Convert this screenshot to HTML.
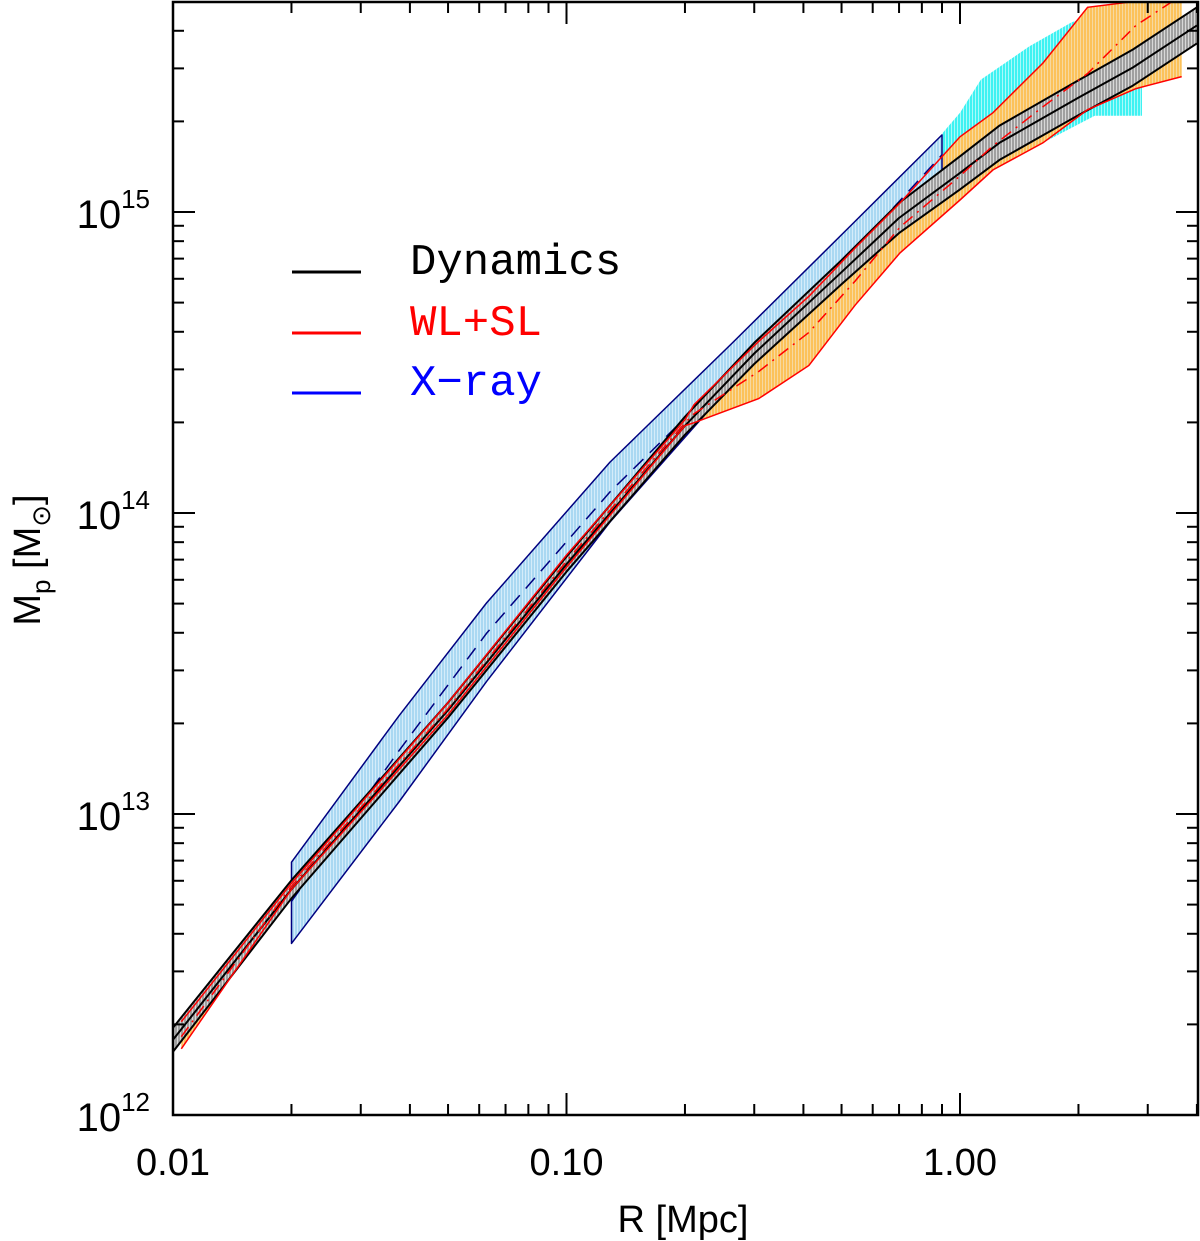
<!DOCTYPE html>
<html><head><meta charset="utf-8"><style>
html,body{margin:0;padding:0;background:#fff;}
svg{display:block;}
</style></head><body>
<svg id="chart" width="1200" height="1241" viewBox="0 0 1200 1241" xmlns="http://www.w3.org/2000/svg">
<defs>
<clipPath id="plotClip"><rect x="173" y="2" width="1025" height="1113"/></clipPath>
<pattern id="hatchOrange" width="3" height="3" patternUnits="userSpaceOnUse"><rect width="3" height="3" fill="#fcc25a"/><rect width="1" height="3" fill="#f7d9a0"/></pattern>
<pattern id="hatchBlue" width="3" height="3" patternUnits="userSpaceOnUse"><rect width="3" height="3" fill="#aad8f2"/><rect width="1" height="3" fill="#d4ecfa"/></pattern>
<pattern id="hatchCyan" width="3" height="3" patternUnits="userSpaceOnUse"><rect width="3" height="3" fill="#3ef2f2"/><rect width="1" height="3" fill="#a8fafa"/></pattern>
<pattern id="hatchGray" width="3" height="3" patternUnits="userSpaceOnUse"><rect width="3" height="3" fill="#a0a0a0"/><rect width="1" height="3" fill="#d8d8d8"/></pattern>
</defs>
<g id="plot" clip-path="url(#plotClip)"></g>
<g id="axes"></g>
<g id="legend">
<line x1="292" y1="272" x2="361" y2="272" stroke="#000" stroke-width="3"/>
<text x="410" y="274" font-family="Liberation Mono, monospace" font-size="44" fill="#000">Dynamics</text>
<line x1="292" y1="333" x2="361" y2="333" stroke="#f00" stroke-width="3"/>
<text x="410" y="335" font-family="Liberation Mono, monospace" font-size="44" fill="#f00">WL+SL</text>
<line x1="292" y1="393" x2="361" y2="393" stroke="#00f" stroke-width="3"/>
<text x="410" y="395" font-family="Liberation Mono, monospace" font-size="44" fill="#00f">X−ray</text>
</g>
<text x="683" y="1232" text-anchor="middle" font-family="Liberation Sans, sans-serif" font-size="38">R [Mpc]</text>
<text transform="translate(40,560) rotate(-90)" text-anchor="middle" font-family="Liberation Sans, sans-serif" font-size="38">M<tspan font-size="26" dy="10">p</tspan><tspan dy="-10"> [M</tspan><tspan font-size="26" dy="10">⊙</tspan><tspan dy="-10">]</tspan></text>
</svg>
<script>
// ---- data ----
const dynR = [0.01,0.02,0.05,0.1,0.2,0.3,0.5,0.7,1,1.26,2,2.75,4];
const dynLogM = [12.25,12.75,13.345,13.83,14.29,14.53,14.80,14.98,15.13,15.23,15.38,15.48,15.62];
const dynLogLo = [12.21,12.72,13.32,13.805,14.26,14.495,14.76,14.93,15.075,15.173,15.322,15.42,15.56];
const dynLogHi = [12.29,12.78,13.37,13.855,14.32,14.565,14.84,15.03,15.185,15.287,15.438,15.54,15.68];
const xrR = [0.02,0.0375,0.0626,0.129,0.264,0.528,0.9];
const xrLogM = [12.71,13.21,13.60,14.07,14.47,14.86,15.19];
const xrLogLo = [12.57,13.04,13.44,13.97,14.43,14.80,15.12];
const xrLogHi = [12.84,13.326,13.701,14.169,14.565,14.955,15.256];
const wlR = [0.0105,0.02,0.05,0.1,0.2,0.211,0.308,0.413,0.541,0.704,1.0,1.213,1.625,2.11,2.8,3.66];
const wlLogM = [12.26,12.76,13.35,13.84,14.30,14.33,14.47,14.60,14.77,14.95,15.12,15.22,15.35,15.46,15.62,15.72];
const wlLogLo = [12.22,12.75,13.33,13.82,14.29,14.30,14.38,14.49,14.69,14.864,15.04,15.14,15.23,15.34,15.41,15.45];
const wlLogHi = [12.31,12.77,13.37,13.86,14.31,14.36,14.57,14.72,14.88,15.03,15.25,15.33,15.495,15.68,15.70,15.71];
const cyanR = [0.9,1.0,1.13,1.5,1.92,2.55,2.9,2.9,2.2,1.625,1.0,0.9];
const cyanLogM = [15.26,15.33,15.44,15.55,15.63,15.69,15.70,15.32,15.32,15.23,15.10,15.10];
const xTickVals = [0.01,0.1,1];
const xTickLabels = ["0.01","0.10","1.00"];
const yTickVals = [12,13,14,15];
const yTickLabels = ["12","13","14","15"];
// ---- axes functions ----
const X0=173,X1=1198,Y0=1115,Y1=2;
function xs(r){return X0+(Math.log10(r)+2)*393.5;}
function ys(lm){return Y0-(lm-12)*301;}
const NS="http://www.w3.org/2000/svg";
const plot=document.getElementById('plot'), axes=document.getElementById('axes'), svg=document.getElementById('chart');
function mk(tag,attrs,parent){const el=document.createElementNS(NS,tag);for(const k in attrs)el.setAttribute(k,attrs[k]);parent.appendChild(el);return el;}
function pts(R,L){return R.map((r,i)=>xs(r).toFixed(1)+","+ys(L[i]).toFixed(1)).join(" ");}
function band(R,lo,hi){return pts(R,hi)+" "+pts(R.slice().reverse(),lo.slice().reverse());}
let e;
e=mk('polygon',{points:pts(cyanR,cyanLogM),fill:'url(#hatchCyan)'},plot);


e=mk('polygon',{points:band(wlR,wlLogLo,wlLogHi),fill:'url(#hatchOrange)'},plot);


e=mk('polygon',{points:band(xrR,xrLogLo,xrLogHi),fill:'url(#hatchBlue)',stroke:'#000080','stroke-width':1.5,'stroke-linejoin':'round'},plot);


e=mk('polyline',{points:pts(xrR,xrLogM),fill:'none',stroke:'#000080','stroke-width':1.5,'stroke-dasharray':'14,9'},plot);


e=mk('polygon',{points:band(dynR,dynLogLo,dynLogHi),fill:'url(#hatchGray)'},plot);


e=mk('polyline',{points:pts(dynR,dynLogLo),fill:'none',stroke:'#000','stroke-width':2,'stroke-linejoin':'round'},plot);


e=mk('polyline',{points:pts(dynR,dynLogHi),fill:'none',stroke:'#000','stroke-width':2,'stroke-linejoin':'round'},plot);


e=mk('polyline',{points:pts(dynR,dynLogM),fill:'none',stroke:'#000','stroke-width':2,'stroke-linejoin':'round'},plot);


e=mk('polyline',{points:pts(wlR,wlLogLo),fill:'none',stroke:'#f00','stroke-width':1.5},plot);


e=mk('polyline',{points:pts(wlR,wlLogHi),fill:'none',stroke:'#f00','stroke-width':1.5},plot);


e=mk('polyline',{points:pts(wlR,wlLogM),fill:'none',stroke:'#f00','stroke-width':1.5,'stroke-dasharray':'12,6,2,6'},plot);


// frame
e=mk('rect',{x:X0,y:Y1,width:X1-X0,height:Y0-Y1,fill:'none',stroke:'#000','stroke-width':2.5},axes);


// x ticks
for(let d=-2;d<=0;d++){for(let m=1;m<=9;m++){const v=m*Math.pow(10,d);const x=xs(v);if(x>X1)continue;const L=m===1?22:11;
 mk('line',{x1:x,y1:Y0,x2:x,y2:Y0-L,stroke:'#000','stroke-width':2},axes);
 mk('line',{x1:x,y1:Y1,x2:x,y2:Y1+L,stroke:'#000','stroke-width':2},axes);}}
xTickVals.forEach((v,i)=>{e=mk('text',{x:xs(v),y:1175,'text-anchor':'middle','font-family':'Liberation Sans, sans-serif','font-size':38},svg);e.textContent=xTickLabels[i];

});
// y ticks
for(let d=12;d<=15;d++){for(let m=1;m<=9;m++){const lm=d+Math.log10(m);const y=ys(lm);if(y<Y1)continue;const L=m===1?22:11;
 mk('line',{x1:X0,y1:y,x2:X0+L,y2:y,stroke:'#000','stroke-width':2},axes);
 mk('line',{x1:X1,y1:y,x2:X1-L,y2:y,stroke:'#000','stroke-width':2},axes);}}
yTickVals.forEach((v,i)=>{e=mk('text',{x:150,y:ys(v)+16,'text-anchor':'end','font-family':'Liberation Sans, sans-serif','font-size':40},svg);


const t1=mk('tspan',{},e);t1.textContent='10';const t2=mk('tspan',{'font-size':26,dy:-20},e);t2.textContent=yTickLabels[i];});
</script>
</body></html>
